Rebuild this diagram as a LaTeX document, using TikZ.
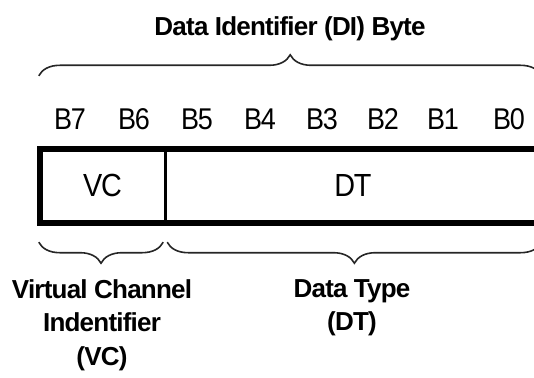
\documentclass[tikz,border=0pt]{standalone}
\usepackage{fontspec}
\setmainfont{Liberation Sans}
\newfontfamily\narrowfont[FakeStretch=0.9,LetterSpace=-4]{Liberation Sans}
\newfontfamily\labelfont[LetterSpace=-3]{Liberation Sans}
\newfontfamily\headfont[LetterSpace=-3]{Liberation Sans}
\usetikzlibrary{decorations.pathreplacing,calc}

\tikzset{
  heading/.style={inner sep=0pt, font=\headfont\bfseries\fontsize{26}{30}\selectfont},
  fieldlabel/.style={inner sep=0pt, align=center, anchor=north,
                     font=\labelfont\bfseries\fontsize{26}{33.5}\selectfont},
  bitlabel/.style={inner sep=0pt, anchor=base, font=\narrowfont\fontsize{30}{34}\selectfont},
  field/.style={inner sep=0pt, minimum height=74pt, text height=20pt, text depth=0pt,
                font=\narrowfont\fontsize{32}{36}\selectfont},
  outline/.style={line width=5.5pt},
  divider/.style={line width=3.2pt},
  bracestyle/.style={line width=1.6pt, draw=black!85,
                     decorate, decoration={brace, amplitude=#1}},
}

\begin{document}
\begin{tikzpicture}[x=1pt, y=-1pt]
  \useasboundingbox (0,0) rectangle (534,377);
  \clip (0,0) rectangle (534,377);

  % byte fields
  \node[field, minimum width=125pt] (vcbox) at (102.5,186) {VC};
  \node[field, minimum width=375pt, anchor=west] (dtbox) at (vcbox.east) {DT};
  \draw[outline] (vcbox.north west) rectangle (dtbox.south east);
  \draw[divider] (vcbox.north east) -- (vcbox.south east);

  % bit numbers
  \foreach \b/\x in {7/70,6/134,5/197,4/260,3/322,2/383,1/443,0/509}
    \node[bitlabel] (bit\b) at (\x,129) {B\b};

  % brace over the whole byte
  \coordinate (topL) at ($(vcbox.north west)+(-1,-73)$);
  \coordinate (topR) at ($(dtbox.north east)+(1,-73)$);
  \draw[bracestyle=21pt] (topL) -- (topR);
  \node[heading, anchor=base] (title) at (290,35.7) {Data Identifier (DI) Byte};

  % braces under the two fields
  \coordinate (vcL) at ($(vcbox.south west)+(-1,19)$);
  \coordinate (vcR) at ($(vcbox.south east)+(-2,19)$);
  \coordinate (dtL) at ($(dtbox.south west)+(2,19)$);
  \coordinate (dtR) at ($(dtbox.south east)+(1,19)$);
  \draw[bracestyle=21pt] (vcR) -- (vcL);
  \draw[bracestyle=21pt] (dtR) -- (dtL);

  \node[fieldlabel] (vcname) at (102,279) {Virtual Channel\\Indentifier\\(VC)};
  \node[fieldlabel] (dtname) at (352,279) {Data Type\\(DT)};
\end{tikzpicture}
\end{document}
